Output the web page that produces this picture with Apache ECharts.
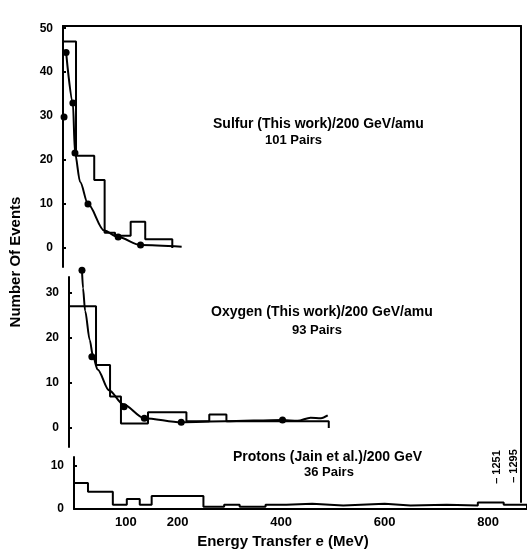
<!DOCTYPE html>
<html>
<head>
<meta charset="utf-8">
<script src="https://cdn.jsdelivr.net/npm/echarts@6/dist/echarts.min.js"></script>
<style>
html, body { margin: 0; background: #fff; }
#main { width: 527px; height: 550px; }
</style>
</head>
<body>
<div id="main"></div>
<script>
// Sulfur (this work) 200 GeV/amu - histogram bins, fit curve, points
var sulfurEdges = [0, 25, 60, 80, 100, 130, 158, 210];
var sulfurCounts = [47, 21, 15.5, 3.5, 2.8, 6, 2];
var sulfurFitX = [6, 19, 23, 33, 48, 79, 106, 149, 228];
var sulfurFitY = [44.5, 33, 21.6, 15, 10, 4, 2.5, 0.7, 0.3];
var sulfurDotX = [2, 6, 19, 23, 48, 106, 149];
var sulfurDotY = [29.8, 44.5, 33, 21.6, 10, 2.5, 0.7];

// Oxygen (this work) 200 GeV/amu
var oxygenEdges = [0, 52, 79, 100, 152, 226, 270, 303, 500];
var oxygenCounts = [27, 14, 7, 1, 3.5, 1.5, 3, 1.5];
var oxygenFitX = [25, 27, 31, 40, 46, 55, 77, 104, 145, 216, 300, 411, 440, 465, 485, 498];
var oxygenFitY = [35, 31, 26, 19.5, 16, 13, 8.4, 5.3, 2.2, 1.3, 1.5, 1.8, 1.6, 2.3, 2.2, 2.8];
var oxygenDotX = [25, 44, 106, 145, 216, 411];
var oxygenDotY = [35, 15.8, 4.7, 2.2, 1.3, 1.8];

// Protons (Jain et al.) 200 GeV
var protonEdges = [0, 27, 75, 102, 127, 150, 250, 290, 320, 370, 410, 460, 520, 600, 650, 720, 780, 830, 875];
var protonCounts = [6, 4, 1, 2.3, 1, 3, 0.5, 1, 0.5, 1, 1.2, 0.8, 1.2, 0.8, 1, 0.8, 1.5, 1];

var xTickValues = [100, 200, 400, 600, 800];
var overflowLabels = ['\u2013 1251', '\u2013 1295'];

var FONT = '"Liberation Sans", Arial, sans-serif';

function histData(edges, counts) {
    var d = [[edges[0], 0]];
    for (var i = 0; i < counts.length; i++) {
        d.push([edges[i], counts[i]]);
    }
    d.push([edges[edges.length - 1], counts[counts.length - 1]]);
    d.push([edges[edges.length - 1], 0]);
    return d;
}

function pairs(xs, ys) {
    return xs.map(function (x, i) { return [x, ys[i]]; });
}

function yAxisFor(gridIndex, min, max, ticks) {
    return {
        type: 'value', gridIndex: gridIndex, min: min, max: max,
        splitLine: { show: false },
        axisLine: { show: true, onZero: false, lineStyle: { color: '#000', width: 2 } },
        axisTick: { show: true, inside: true, length: 3, customValues: ticks, lineStyle: { color: '#000', width: 2 } },
        axisLabel: { customValues: ticks, color: '#000', fontFamily: FONT, fontWeight: 'bold', fontSize: 12, margin: 10 }
    };
}

function panelSeries(idx, edges, counts, fitX, fitY, dotX, dotY) {
    var list = [{
        type: 'line', xAxisIndex: idx, yAxisIndex: idx, step: 'end',
        data: histData(edges, counts), showSymbol: false, silent: true,
        lineStyle: { color: '#000', width: 2 }
    }];
    if (fitX) {
        list.push({
            type: 'line', xAxisIndex: idx, yAxisIndex: idx, smooth: 0.3, smoothMonotone: 'x',
            data: pairs(fitX, fitY), showSymbol: false, clip: false,
            lineStyle: { color: '#000', width: 2 }
        });
        list.push({
            type: 'scatter', xAxisIndex: idx, yAxisIndex: idx, clip: false,
            data: pairs(dotX, dotY), symbolSize: 7, itemStyle: { color: '#000', opacity: 1 }
        });
    }
    return list;
}

var headStyle = { color: '#000', fontFamily: FONT, fontWeight: 'bold', fontSize: 14 };
var pairStyle = { color: '#000', fontFamily: FONT, fontWeight: 'bold', fontSize: 13 };

var chart = echarts.init(document.getElementById('main'));
chart.setOption({
    animation: false,
    backgroundColor: '#fff',
    grid: [
        { left: 63, right: 6, top: 26, height: 241 },
        { left: 69, right: 6, top: 277, height: 170 },
        { left: 74, right: 0, top: 457, height: 52 },
        { left: 63, right: 6, top: 26, bottom: 48 }
    ],
    title: [
        { text: 'Sulfur (This work)/200 GeV/amu', left: 213, top: 117, padding: 0, textStyle: headStyle },
        { text: '101 Pairs', left: 265, top: 134, padding: 0, textStyle: pairStyle },
        { text: 'Oxygen (This work)/200 GeV/amu', left: 211, top: 305, padding: 0, textStyle: headStyle },
        { text: '93 Pairs', left: 292, top: 324, padding: 0, textStyle: pairStyle },
        { text: 'Protons (Jain et al.)/200 GeV', left: 233, top: 450, padding: 0, textStyle: headStyle },
        { text: '36 Pairs', left: 304, top: 466, padding: 0, textStyle: pairStyle }
    ],
    xAxis: [
        {
            type: 'value', gridIndex: 0, min: 0, max: 880, position: 'top',
            splitLine: { show: false }, axisTick: { show: false }, axisLabel: { show: false },
            axisLine: { show: true, onZero: false, lineStyle: { color: '#000', width: 2 } }
        },
        { type: 'value', gridIndex: 1, min: 0, max: 870, show: false },
        {
            type: 'value', gridIndex: 2, min: 0, max: 875,
            splitLine: { show: false }, axisTick: { show: false },
            axisLine: { show: true, onZero: false, lineStyle: { color: '#000', width: 2 } },
            axisLabel: { customValues: xTickValues, color: '#000', fontFamily: FONT, fontWeight: 'bold', fontSize: 13, margin: 7 }
        },
        { type: 'value', gridIndex: 3, min: 0, max: 1, show: false }
    ],
    yAxis: [
        yAxisFor(0, -4.3, 50.5, [0, 10, 20, 30, 40, 50]),
        yAxisFor(1, -4.2, 33.5, [0, 10, 20, 30]),
        yAxisFor(2, 0, 12, [0, 10]),
        {
            type: 'value', gridIndex: 3, min: 0, max: 1, position: 'right',
            splitLine: { show: false }, axisTick: { show: false }, axisLabel: { show: false },
            axisLine: { show: true, onZero: false, lineStyle: { color: '#000', width: 2 } }
        }
    ],
    graphic: [
        {
            type: 'text', x: 16, y: 262, rotation: Math.PI / 2,
            style: { text: 'Number Of Events', fill: '#000', font: 'bold 15px ' + FONT, textAlign: 'center', textVerticalAlign: 'middle' }
        },
        {
            type: 'text', x: 283, y: 542,
            style: { text: 'Energy Transfer e (MeV)', fill: '#000', font: 'bold 15px ' + FONT, textAlign: 'center', textVerticalAlign: 'middle' }
        },
        {
            type: 'text', x: 497, y: 467, rotation: Math.PI / 2,
            style: { text: overflowLabels[0], fill: '#000', font: 'bold 11px ' + FONT, textAlign: 'center', textVerticalAlign: 'middle' }
        },
        {
            type: 'text', x: 514, y: 466, rotation: Math.PI / 2,
            style: { text: overflowLabels[1], fill: '#000', font: 'bold 11px ' + FONT, textAlign: 'center', textVerticalAlign: 'middle' }
        }
    ],
    series: [].concat(
        panelSeries(0, sulfurEdges, sulfurCounts, sulfurFitX, sulfurFitY, sulfurDotX, sulfurDotY),
        panelSeries(1, oxygenEdges, oxygenCounts, oxygenFitX, oxygenFitY, oxygenDotX, oxygenDotY),
        panelSeries(2, protonEdges, protonCounts)
    )
});
window.addEventListener('resize', function () {
    chart.resize();
});
</script>
</body>
</html>
